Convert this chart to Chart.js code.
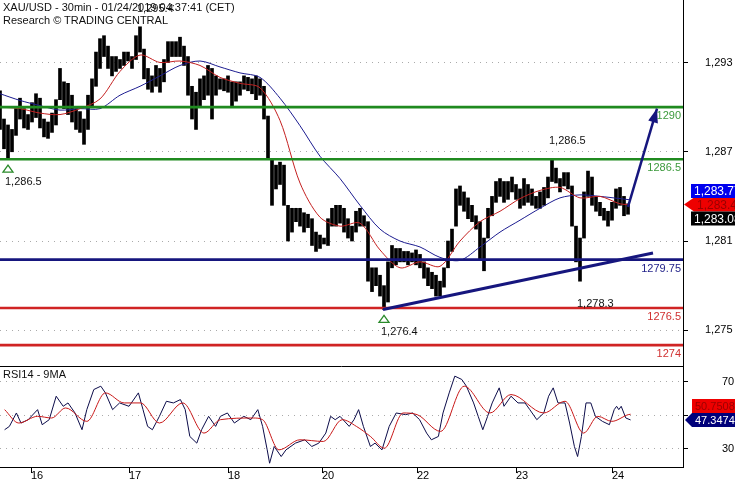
<!DOCTYPE html>
<html>
<head>
<meta charset="utf-8">
<title>XAU/USD - 30min</title>
<script src="https://cdn.jsdelivr.net/npm/chart.js@4.4.1/dist/chart.umd.min.js"></script>
<style>
  html, body { margin: 0; padding: 0; background: #fff; }
  #wrap { position: relative; width: 735px; height: 480px; overflow: hidden; font-family: "Liberation Sans", Arial, sans-serif; }
  #priceChart { position: absolute; left: 0; top: 0; }
  #rsiChart { position: absolute; left: 0; top: 366px; }
  .txt { position: absolute; left: 3px; font-size: 11px; line-height: 13px; color: #111; white-space: nowrap; }
</style>
</head>
<body>
<div id="wrap">
  <canvas id="priceChart" width="735" height="366"></canvas>
  <canvas id="rsiChart" width="735" height="114"></canvas>
  <div class="txt" style="top:1px">XAU/USD - 30min - 01/24/2019 04:37:41 (CET)</div>
  <div class="txt" style="top:14px">Research © TRADING CENTRAL</div>
  <div class="txt" style="top:368px">RSI14 - 9MA</div>
</div>
<script>
// x unit = one 30min bar, price samples every 2 bars
const barMin = 0, barMax = 341.5;
const dayTicks = [15.5, 64.5, 114, 161, 208.5, 258, 306];
const dayLabels = ['16', '17', '18', '20', '22', '23', '24'];

const priceMin = 1272.6, priceMax = 1297.2;
const priceTicks = [1275, 1281, 1287, 1293];

const priceHigh = [
  1291.1,1289.2,1288.8,1288.5,1289.9,1290.6,1289.9,1289.5,1290.3,1290.9,
  1290.6,1289.2,1289.0,1289.6,1290.5,1292.6,1291.7,1291.6,1290.8,1289.9,
  1289.7,1289.2,1290.8,1291.9,1293.7,1294.6,1294.8,1294.1,1293.4,1293.4,
  1293.2,1293.7,1293.7,1293.4,1294.8,1295.4,1293.9,1292.6,1292.1,1292.8,
  1292.6,1293.2,1294.4,1294.4,1294.4,1294.7,1294.1,1293.4,1291.4,1291.0,
  1291.9,1292.1,1292.8,1292.6,1292.1,1291.9,1291.9,1292.1,1291.7,1291.7,
  1291.7,1292.1,1292.0,1291.9,1292.1,1291.9,1291.4,1289.4,1286.5,1286.1,
  1286.3,1286.1,1283.4,1283.2,1283.2,1283.2,1282.9,1282.8,1282.5,1281.6,
  1281.4,1281.2,1282.5,1283.2,1283.4,1283.4,1283.2,1282.5,1282.0,1283.0,
  1283.2,1282.7,1282.3,1279.2,1279.2,1278.7,1278.0,1279.6,1280.7,1280.5,
  1280.5,1280.3,1280.3,1280.2,1280.4,1280.1,1279.6,1279.2,1278.9,1278.7,
  1278.3,1279.2,1281.0,1281.8,1284.5,1284.7,1284.3,1283.9,1283.4,1282.7,
  1282.3,1281.2,1283.2,1284.0,1285.0,1285.2,1285.0,1285.0,1285.3,1284.8,
  1284.5,1285.2,1284.8,1284.5,1284.0,1284.3,1284.6,1285.3,1286.5,1285.9,
  1285.2,1285.6,1285.6,1284.7,1282.0,1281.2,1284.3,1285.7,1285.3,1284.0,
  1283.6,1283.2,1283.0,1283.6,1284.5,1284.6,1284.0,1283.5
];
const priceLow = [
  1288.5,1287.2,1286.5,1287.0,1288.1,1289.2,1288.6,1288.5,1289.0,1289.3,
  1288.6,1288.0,1287.9,1288.3,1288.8,1290.5,1289.9,1289.5,1289.0,1288.5,
  1288.3,1287.5,1288.5,1290.1,1291.4,1292.6,1293.4,1292.6,1292.1,1292.4,
  1292.6,1292.8,1293.1,1292.6,1293.2,1293.7,1291.9,1291.2,1291.0,1291.4,
  1291.0,1291.7,1293.0,1293.4,1293.4,1293.4,1292.8,1290.8,1289.2,1288.5,
  1290.1,1290.5,1290.8,1289.2,1290.8,1291.2,1291.1,1291.0,1290.1,1290.4,
  1290.8,1291.2,1291.1,1290.9,1290.5,1290.8,1289.2,1286.5,1283.4,1284.5,
  1284.8,1283.4,1281.0,1281.6,1282.3,1282.0,1281.6,1281.9,1280.7,1280.3,
  1280.5,1280.8,1280.7,1282.0,1282.0,1282.2,1281.6,1281.2,1281.0,1281.6,
  1282.0,1282.0,1278.3,1277.6,1278.0,1277.3,1276.4,1276.9,1279.2,1279.4,
  1279.6,1279.6,1279.4,1279.6,1279.4,1279.2,1278.5,1278.0,1277.8,1277.3,
  1277.3,1277.9,1279.2,1280.3,1282.0,1283.4,1283.0,1282.5,1282.3,1281.8,
  1279.8,1279.0,1281.2,1282.7,1283.6,1284.0,1283.6,1283.8,1284.3,1283.8,
  1283.2,1283.4,1283.6,1283.4,1283.2,1283.2,1283.4,1283.9,1285.0,1284.9,
  1284.3,1284.7,1284.5,1282.0,1279.6,1278.3,1281.2,1284.0,1283.4,1283.0,
  1282.7,1282.4,1282.0,1282.4,1283.2,1283.4,1282.7,1282.8
];
const lastPrice = 1283.08;

// moving averages, read every 10 bars
const maBars = [0,10,20,30,40,50,60,70,80,90,100,110,120,130,140,150,160,170,180,190,200,210,220,230,240,250,260,270,280,290,300,310,315];
const maFast = [1290.0,1289.9,1289.6,1289.5,1289.9,1290.55,1292.4,1293.5,1293.0,1293.1,1292.8,1292.0,1291.6,1291.3,1289.1,1284.9,1282.6,1282.0,1282.2,1280.4,1279.2,1279.6,1279.3,1281.0,1282.3,1283.0,1283.85,1284.4,1284.6,1283.9,1284.0,1283.5,1283.45];
const maSlow = [1290.9,1290.45,1290.1,1289.8,1289.9,1289.9,1290.8,1291.4,1292.1,1292.8,1293.1,1292.7,1292.3,1292.0,1290.6,1288.75,1286.7,1285.2,1283.4,1281.8,1281.0,1280.6,1279.9,1279.7,1280.6,1281.6,1282.4,1283.2,1283.9,1284.1,1284.0,1283.85,1283.77];

// support / resistance levels, trend line and target arrow
const levels = [1290, 1286.5, 1279.75, 1276.5, 1274];
const trendBars = [191.5, 326.5];
const trendVals = [1276.4, 1280.2];
const arrowBars = [314, 328.5];
const arrowVals = [1283.3, 1289.9];

// marked highs / lows
const markBars = [4, 70, 192, 276, 290];
const markVals = [1286.5, 1295.4, 1276.4, 1286.5, 1278.3];
const markSide = ['low', 'high', 'low', 'high', 'low'];
const markTriangle = [true, false, true, false, false];

// RSI panel
const rsiMin = 19.25, rsiMax = 79.55;
const rsiGrid = [30, 50, 70];
const rsiBars = [2.3,4.7,8.2,10.5,14.1,18.8,21.1,24.6,28.1,31.6,34,37.5,41,43.4,46.9,50.4,52.7,56.3,59.8,64.5,
  69.2,71.5,73.8,76.2,79.7,83.2,86.7,90.2,92.6,94.9,98.4,100.8,104.3,107.8,110.2,113.7,117.2,121.9,125.4,128.9,
  131.3,133.6,134.8,137.1,140.6,143,147.7,152.4,155.9,159.4,162.9,165.3,167.6,170,174.6,177,179.3,181.7,185.2,187.5,
  191,194.6,198.1,202.8,206.3,209.8,213.3,215.7,219.2,221.5,224.6,227.4,230.9,233.2,236.8,239.1,241.4,243.8,246.1,249.6,
  252,255.5,259,262.5,264.9,268.4,271.9,274.3,276.6,279,282.5,284.8,287.2,288.8,290.7,293,295.4,297.7,301.2,304.7,
  307.1,308.3,309.4,310.6,312.9,315.3];
const rsiVals = [41.5,43.5,51.5,45.5,47.5,53.5,44.5,47.5,61.5,55.5,57.5,51.5,41.5,53.5,65.5,67.5,63.5,53.5,57.5,55.5,
  63.5,53.5,43.5,41.5,49.5,58.5,57.5,59.5,53.5,37.5,33.5,41.5,49.5,43.5,49.5,51.5,45.5,49.5,47.5,53.5,
  43.5,29.5,21.5,31.5,25.5,29.5,33.5,35.5,31.5,33.5,39.5,49.5,47.5,49.5,43.5,47.5,53.5,43.5,31.5,33.5,
  29.5,43.5,51.5,50.5,51.5,47.5,39.5,35.5,37.5,51.5,63.5,73.5,71.5,67.5,57.5,49.5,41.5,49.5,57.5,66.5,
  55.5,61.5,57.5,57.5,53.5,47.5,51.5,61.5,66.5,57.5,57.5,45.5,31.5,25.5,37.5,57.5,57.5,49.5,46.5,44.5,
  53.5,55.5,53.5,55.5,48.5,47.3474];
const rsiMaBars = [2.3,9.4,18.8,25.8,32.8,43.4,52.7,62.1,70.3,79.7,91.4,102,110.2,126.6,131.3,139.5,150,161.7,171.1,178.2,
  185.2,192.2,201.6,208.6,220.3,232.1,245,255.5,271.9,282.5,291.8,298.9,305.9,314.1,315.3];
const rsiMaVals = [53.5,45.5,49.5,48.5,54.5,46.5,63.5,57.5,57.5,45.5,57.5,39.5,47.5,48.5,47.5,29.5,35.5,34.5,47.5,43.5,
  37.5,30.5,51.5,50.5,40.5,67.5,51.5,62.5,51.5,58.5,39.5,49.5,46.5,50.5,50.7508];

// styles
const FONT = '"Liberation Sans", Arial, sans-serif';
const GREEN = '#1f8a1f', NAVY = '#16167e', RED = '#d02424';
const levelColors = [GREEN, GREEN, NAVY, RED, RED];
const levelText = ['#3c9a3c', '#3c9a3c', '#23238a', '#d03030', '#d03030'];

Chart.defaults.font.family = FONT;
Chart.defaults.font.size = 11;
Chart.defaults.color = '#000';

const fmtPrice = v => v.toLocaleString('en-US', { minimumFractionDigits: 1, maximumFractionDigits: 2 });
const pts = (xs, ys) => xs.map((x, i) => ({ x: x, y: ys[i] }));

// right axis: fixed width, no extra vertical padding from tick labels
function fitRightAxis(s) {
    s.width = 52;
    s.paddingTop = 0;
    s.paddingBottom = 0;
}

function drawBadge(ctx, left, yc, fill, color, text, tip) {
    const h = 14;
    ctx.fillStyle = fill;
    ctx.beginPath();
    if (tip !== undefined) { ctx.moveTo(tip, yc); ctx.lineTo(left, yc - h / 2); }
    else ctx.moveTo(left, yc - h / 2);
    ctx.lineTo(740, yc - h / 2);
    ctx.lineTo(740, yc + h / 2);
    ctx.lineTo(left, yc + h / 2);
    ctx.closePath();
    ctx.fill();
    ctx.fillStyle = color;
    ctx.textAlign = 'left';
    ctx.textBaseline = 'middle';
    ctx.fillText(text, left + 3, yc + 1);
}

const priceOverlay = {
    id: 'priceOverlay',
    afterDatasetsDraw(chart) {
        const { ctx, chartArea: area, scales: { x, y } } = chart;
        ctx.save();
        // arrow head on the target line
        const meta = chart.getDatasetMeta(chart.data.datasets.length - 1);
        const p0 = meta.data[0], p1 = meta.data[1];
        const a = Math.atan2(p1.y - p0.y, p1.x - p0.x);
        const bx = p1.x - 14 * Math.cos(a), by = p1.y - 14 * Math.sin(a);
        ctx.fillStyle = NAVY;
        ctx.beginPath();
        ctx.moveTo(p1.x, p1.y);
        ctx.lineTo(bx - 5 * Math.sin(a), by + 5 * Math.cos(a));
        ctx.lineTo(bx + 5 * Math.sin(a), by - 5 * Math.cos(a));
        ctx.closePath();
        ctx.fill();

        // level labels
        ctx.font = '11px ' + FONT;
        ctx.textAlign = 'right';
        ctx.textBaseline = 'middle';
        levels.forEach((lv, i) => {
            ctx.fillStyle = levelText[i];
            ctx.fillText(String(lv), area.right - 2, y.getPixelForValue(lv) + 9);
        });

        // marked highs and lows
        ctx.textAlign = 'left';
        markVals.forEach((v, i) => {
            const px = x.getPixelForValue(markBars[i]);
            const py = y.getPixelForValue(v);
            if (markTriangle[i]) {
                ctx.strokeStyle = '#2a8a2a';
                ctx.lineWidth = 1.3;
                ctx.beginPath();
                ctx.moveTo(px, py + 6);
                ctx.lineTo(px - 5, py + 13);
                ctx.lineTo(px + 5, py + 13);
                ctx.closePath();
                ctx.stroke();
            }
            ctx.fillStyle = '#111';
            ctx.fillText(fmtPrice(v), px - 3, markSide[i] === 'low' ? py + 23 : py - 18);
        });
        ctx.restore();
    },
    afterDraw(chart) {
        const { ctx, scales: { y } } = chart;
        ctx.save();
        ctx.font = '12px ' + FONT;
        const yFast = y.getPixelForValue(maFast[maFast.length - 1]);
        drawBadge(ctx, 694, yFast, '#ee0000', '#9a0000', fmtPrice(maFast[maFast.length - 1]), 684);
        drawBadge(ctx, 691, yFast - 13.5, '#0000ee', '#fff', fmtPrice(maSlow[maSlow.length - 1]));
        drawBadge(ctx, 691, yFast + 14, '#000', '#fff', fmtPrice(lastPrice));
        ctx.restore();
    }
};

const levelSets = levels.map((lv, i) => ({
    type: 'line',
    data: [{ x: barMin, y: lv }, { x: barMax, y: lv }],
    borderColor: levelColors[i], borderWidth: 2.6, pointRadius: 0, order: 1
}));

new Chart(document.getElementById('priceChart'), {
    type: 'bar',
    data: {
        datasets: [
            {
                type: 'bar',
                data: priceHigh.map((h, k) => ({ x: 2 * k, y: [priceLow[k], h] })),
                backgroundColor: '#000', borderWidth: 0, barThickness: 3, order: 3
            },
            { type: 'line', data: pts(maBars, maFast), borderColor: '#c42020', borderWidth: 1, pointRadius: 0, tension: 0.3, order: 2 },
            { type: 'line', data: pts(maBars, maSlow), borderColor: '#1c1c90', borderWidth: 1, pointRadius: 0, tension: 0.3, order: 2 },
            ...levelSets,
            { type: 'line', data: pts(trendBars, trendVals), borderColor: NAVY, borderWidth: 3, pointRadius: 0, order: 0 },
            { type: 'line', data: pts(arrowBars, arrowVals), borderColor: NAVY, borderWidth: 2.5, pointRadius: 0, order: 0 }
        ]
    },
    options: {
        responsive: false, animation: false, events: [],
        layout: { padding: 0 },
        plugins: { legend: { display: false }, tooltip: { enabled: false } },
        scales: {
            x: { type: 'linear', min: barMin, max: barMax, offset: false, display: false },
            y: {
                position: 'right', min: priceMin, max: priceMax,
                afterFit: fitRightAxis,
                afterBuildTicks: s => { s.ticks = priceTicks.map(v => ({ value: v })); },
                ticks: { padding: 17, color: '#000', callback: v => v.toLocaleString('en-US') },
                grid: { color: '#aaaaaa', tickColor: '#000', tickLength: 5 },
                border: { display: true, color: '#000', dash: [1, 5] }
            }
        }
    },
    plugins: [priceOverlay]
});

const rsiOverlay = {
    id: 'rsiOverlay',
    afterDraw(chart) {
        const { ctx, chartArea: area, scales: { y } } = chart;
        ctx.save();
        ctx.strokeStyle = '#000';
        ctx.lineWidth = 1;
        ctx.beginPath();
        ctx.moveTo(0, area.top + 0.5);
        ctx.lineTo(area.right, area.top + 0.5);
        ctx.stroke();
        ctx.font = '11px ' + FONT;
        const yr = y.getPixelForValue(rsiVals[rsiVals.length - 1]);
        drawBadge(ctx, 692, yr - 14, '#ee0000', '#9a0000', rsiMaVals[rsiMaVals.length - 1].toFixed(4));
        drawBadge(ctx, 692, yr, '#00007a', '#fff', rsiVals[rsiVals.length - 1].toFixed(4), 685);
        ctx.restore();
    }
};

new Chart(document.getElementById('rsiChart'), {
    type: 'line',
    data: {
        datasets: [
            { data: pts(rsiMaBars, rsiMaVals), borderColor: '#c81818', borderWidth: 1, pointRadius: 0, cubicInterpolationMode: 'monotone' },
            { data: pts(rsiBars, rsiVals), borderColor: '#0c0c4a', borderWidth: 1, pointRadius: 0 }
        ]
    },
    options: {
        responsive: false, animation: false, events: [],
        layout: { padding: 0 },
        plugins: { legend: { display: false }, tooltip: { enabled: false } },
        scales: {
            x: {
                type: 'linear', min: barMin, max: barMax, offset: false,
                afterFit: s => { s.height = 13; s.paddingLeft = 0; s.paddingRight = 0; },
                afterBuildTicks: s => { s.ticks = dayTicks.map(v => ({ value: v })); },
                ticks: {
                    autoSkip: false, maxRotation: 0, align: 'start', padding: -4, color: '#000',
                    callback: v => dayLabels[dayTicks.indexOf(v)]
                },
                grid: { drawOnChartArea: false, tickLength: 6, tickColor: '#000' },
                border: { display: true, color: '#000' }
            },
            y: {
                position: 'right', min: rsiMin, max: rsiMax,
                afterFit: fitRightAxis,
                afterBuildTicks: s => { s.ticks = rsiGrid.map(v => ({ value: v })); },
                ticks: { padding: 34, color: '#000', callback: v => (v === 50 ? '' : v) },
                grid: { color: '#aaaaaa', tickColor: '#000', tickLength: 5 },
                border: { display: true, color: '#000', dash: [1, 5] }
            }
        }
    },
    plugins: [rsiOverlay]
});
</script>
</body>
</html>
